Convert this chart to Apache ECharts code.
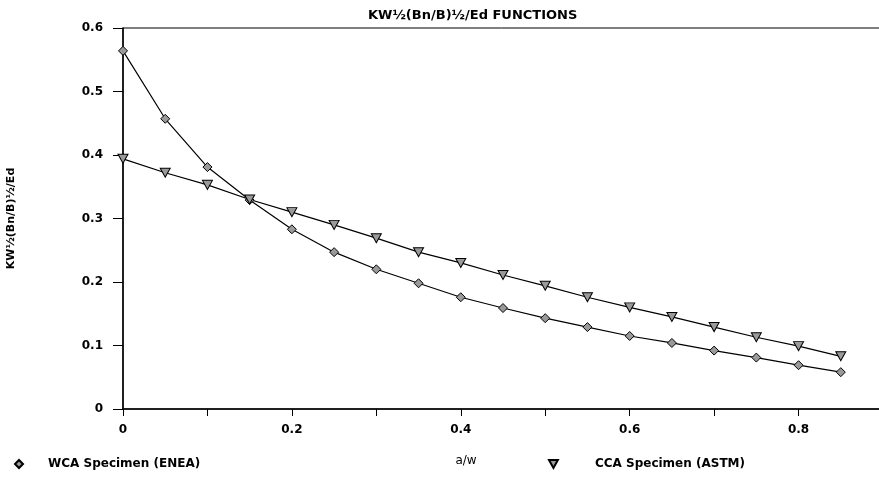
<!DOCTYPE html>
<html><head><meta charset="utf-8">
<script src="https://cdn.jsdelivr.net/npm/echarts@6/dist/echarts.min.js"></script>
<style>html,body{margin:0;padding:0;background:#fff}#c{width:879px;height:481px}</style>
</head><body><div id="c"></div>
<script>
const aw = [0, 0.05, 0.1, 0.15, 0.2, 0.25, 0.3, 0.35, 0.4, 0.45, 0.5, 0.55, 0.6, 0.65, 0.7, 0.75, 0.8, 0.85];
const wca = [0.564, 0.457, 0.381, 0.329, 0.283, 0.247, 0.220, 0.198, 0.176, 0.159, 0.143, 0.129, 0.115, 0.104, 0.092, 0.081, 0.069, 0.058];
const cca = [0.394, 0.372, 0.353, 0.330, 0.310, 0.290, 0.269, 0.247, 0.230, 0.211, 0.194, 0.176, 0.160, 0.145, 0.129, 0.113, 0.099, 0.083];
const names = ['WCA Specimen (ENEA)', 'CCA Specimen (ASTM)'];
const titleText = 'KW½(Bn/B)½/Ed FUNCTIONS';
const yName = 'KW½(Bn/B)½/Ed';
const xName = 'a/w';

const FONT = 'DejaVu Sans';
const tri = 'path://M0,0 L10,0 L5,9 Z';
const chart = echarts.init(document.getElementById('c'));
const ts = {fontFamily: FONT, fontWeight: 'bold', fontSize: 12, color: '#000'};
chart.setOption({
  animation: false,
  title: {text: titleText, left: 363, top: 4, textStyle: Object.assign({}, ts, {fontSize: 13})},
  grid: {left: 123, top: 28, width: 760, bottom: 72, show: true, borderColor: '#000', borderWidth: 1,
         containLabel: false, outerBoundsMode: 'none'},
  legend: [
    {left: 9, top: 453, data: [{name: names[0], icon: 'diamond'}], itemWidth: 8, itemHeight: 8,
     textStyle: Object.assign({}, ts, {padding: [0, 0, 0, 20]})},
    {left: 543, top: 453, data: [{name: names[1], icon: tri}], itemWidth: 9, itemHeight: 8,
     textStyle: Object.assign({}, ts, {padding: [0, 0, 0, 32]})}
  ],
  xAxis: {
    type: 'value', min: 0, max: 0.9, interval: 0.1,
    name: xName, nameLocation: 'middle', nameGap: 46,
    nameTextStyle: Object.assign({}, ts, {fontWeight: 'normal', padding: [0, 74, 0, 0]}),
    axisLine: {show: true, lineStyle: {color: '#000', width: 1.5}},
    axisTick: {show: true, inside: false, length: 7, lineStyle: {color: '#000'}},
    splitLine: {show: false},
    axisLabel: Object.assign({}, ts, {margin: 15, formatter: v => {
      const k = Math.round(v * 10); if (k % 2 !== 0) return ''; return k === 0 ? '0' : (k / 10).toFixed(1);
    }})
  },
  yAxis: {
    type: 'value', min: 0, max: 0.6, interval: 0.1,
    name: yName, nameLocation: 'middle', nameGap: 106, nameRotate: 90,
    nameTextStyle: Object.assign({}, ts, {fontSize: 11, padding: [0, 0, 0, 0]}),
    axisLine: {show: true, lineStyle: {color: '#000', width: 1.5}},
    axisTick: {show: true, inside: false, length: 10, lineStyle: {color: '#000'}},
    splitLine: {show: false},
    axisLabel: Object.assign({}, ts, {margin: 20, formatter: v => v === 0 ? '0' : v.toFixed(1)})
  },
  series: [
    {name: names[0], type: 'line', data: aw.map((x, i) => [x, wca[i]]),
     symbol: 'diamond', symbolSize: 9,
     lineStyle: {color: '#000', width: 1.2},
     itemStyle: {color: '#9a9a9a', borderColor: '#000', borderWidth: 1}},
    {name: names[1], type: 'line', data: aw.map((x, i) => [x, cca[i]]),
     symbol: tri, symbolSize: [10, 9],
     lineStyle: {color: '#000', width: 1.2},
     itemStyle: {color: '#9a9a9a', borderColor: '#000', borderWidth: 1}}
  ]
});
</script></body></html>
